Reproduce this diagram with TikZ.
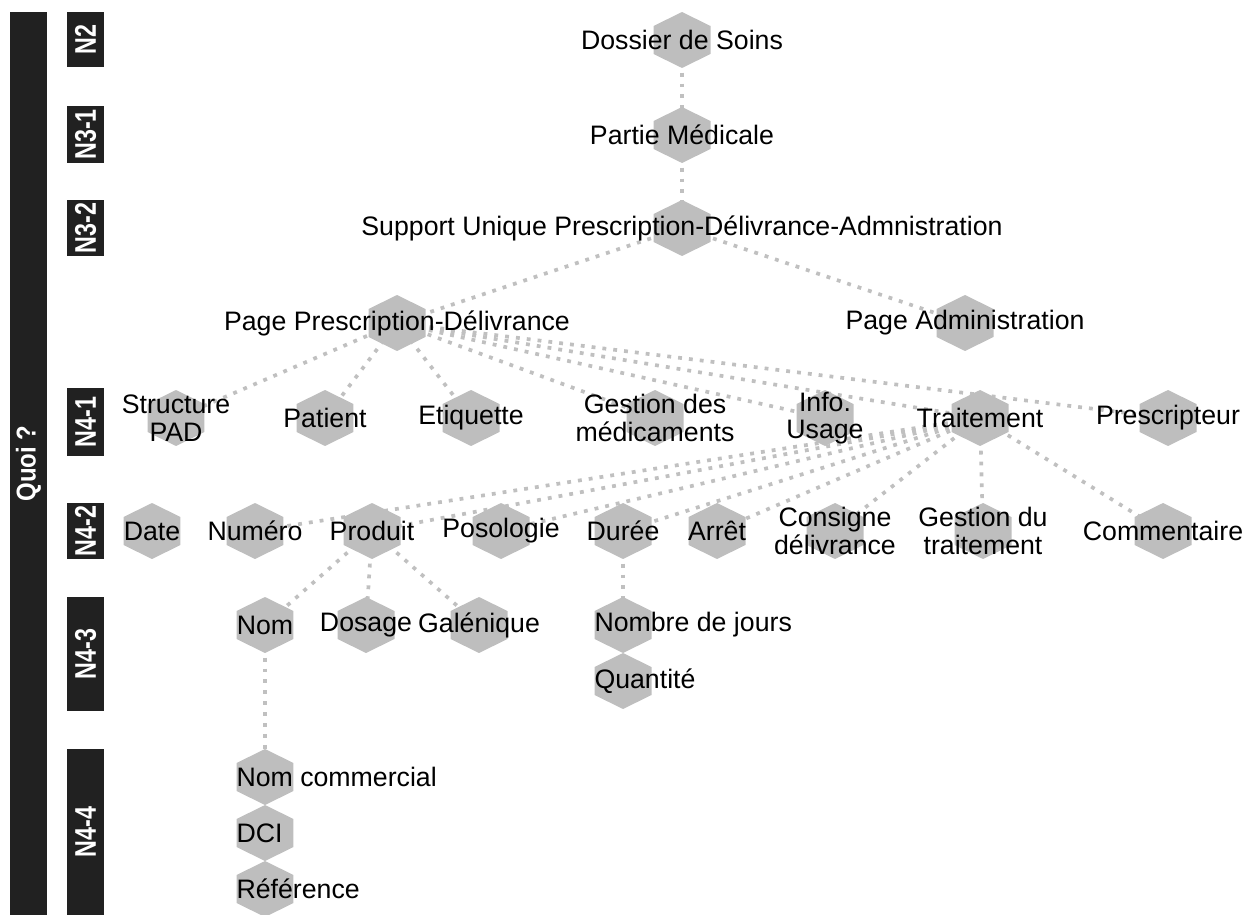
\documentclass[tikz,border=0pt]{standalone}
\usepackage{fontspec}
\setmainfont{Liberation Sans}
\usetikzlibrary{backgrounds}
\definecolor{hexgray}{HTML}{BEBEBE}
\definecolor{dotgray}{HTML}{C0C0C0}
\definecolor{barink}{HTML}{212121}
\tikzset{hex/.style={minimum width=1.14cm,minimum height=1.12cm,inner sep=0pt,path picture={\fill[hexgray] (path picture bounding box.north) -- ([yshift=-0.28cm]path picture bounding box.north east) -- ([yshift=0.28cm]path picture bounding box.south east) -- (path picture bounding box.south) -- ([yshift=0.28cm]path picture bounding box.south west) -- ([yshift=-0.28cm]path picture bounding box.north west) -- cycle;}}, txt/.style={inner sep=0pt,align=center,font=\fontsize{15.2pt}{15.8pt}\selectfont}, link/.style={draw=dotgray,line width=2.1pt,dash pattern=on 2.2pt off 4pt}, lvl/.style={fill=barink,text=white,inner sep=0pt,minimum width=0.74cm,font=\bfseries\fontsize{17pt}{17pt}\selectfont}}

\begin{document}
\begin{tikzpicture}[x=0.02cm,y=-0.02cm]
\useasboundingbox (0,0) rectangle (1250,915);
% bandeau et niveaux
\node[lvl,minimum height=18.06cm,font=\bfseries\fontsize{15.5pt}{15.5pt}\selectfont] (quoi) at (28.5,463.5) {\rotatebox{90}{\scalebox{0.88}[1]{Quoi ?}}};
\node[lvl,minimum height=1.1cm] (n2) at (85.5,39.5) {\rotatebox{90}{\scalebox{0.78}[1]{N2}}};
\node[lvl,minimum height=1.14cm] (n31) at (85.5,134.5) {\rotatebox{90}{\scalebox{0.78}[1]{N3-1}}};
\node[lvl,minimum height=1.12cm] (n32) at (85.5,228) {\rotatebox{90}{\scalebox{0.78}[1]{N3-2}}};
\node[lvl,minimum height=1.36cm] (n41) at (85.5,422) {\rotatebox{90}{\scalebox{0.78}[1]{N4-1}}};
\node[lvl,minimum height=1.12cm] (n42) at (85.5,531) {\rotatebox{90}{\scalebox{0.78}[1]{N4-2}}};
\node[lvl,minimum height=2.28cm] (n43) at (85.5,654) {\rotatebox{90}{\scalebox{0.78}[1]{N4-3}}};
\node[lvl,minimum height=3.32cm] (n44) at (85.5,832) {\rotatebox{90}{\scalebox{0.78}[1]{N4-4}}};
% hexagones
\node[hex] (dossier) at (682,40) {}; \node[txt] (dossier-t) at (dossier) {Dossier de Soins};
\node[hex] (partie) at (682,135) {}; \node[txt] (partie-t) at (partie) {Partie Médicale};
\node[hex] (support) at (682,228) {}; \node[txt] (support-t) at (support) {Support Unique Prescription-Délivrance-Admnistration};
\node[hex] (ppd) at (397,323) {}; \node[txt] (ppd-t) at (ppd) {Page Prescription-Délivrance};
\node[hex] (padm) at (965,323) {}; \node[txt] (padm-t) at (padm) {Page Administration};
\node[hex] (struct) at (176,418) {}; \node[txt] (struct-t) at (struct) {Structure\\PAD};
\node[hex] (patient) at (325,418) {}; \node[txt] (patient-t) at (patient) {Patient};
\node[hex] (etiq) at (471,418) {}; \node[txt] (etiq-t) at (etiq) {Etiquette};
\node[hex] (gmed) at (655,418) {}; \node[txt] (gmed-t) at (gmed) {Gestion des\\médicaments};
\node[hex] (info) at (825,418) {}; \node[txt] (info-t) at (info) {Info.\\Usage};
\node[hex] (trait) at (980,418) {}; \node[txt] (trait-t) at (trait) {Traitement};
\node[hex] (presc) at (1168,418) {}; \node[txt] (presc-t) at (presc) {Prescripteur};
\node[hex] (date) at (152,531) {}; \node[txt] (date-t) at (date) {Date};
\node[hex] (numero) at (255,531) {}; \node[txt] (numero-t) at (numero) {Numéro};
\node[hex] (produit) at (372,531) {}; \node[txt] (produit-t) at (produit) {Produit};
\node[hex] (poso) at (501,531) {}; \node[txt] (poso-t) at (poso) {Posologie};
\node[hex] (duree) at (623,531) {}; \node[txt] (duree-t) at (duree) {Durée};
\node[hex] (arret) at (717,531) {}; \node[txt] (arret-t) at (arret) {Arrêt};
\node[hex] (consigne) at (835,531) {}; \node[txt] (consigne-t) at (consigne) {Consigne\\délivrance};
\node[hex] (gtrait) at (983,531) {}; \node[txt] (gtrait-t) at (gtrait) {Gestion du\\traitement};
\node[hex] (comment) at (1163,531) {}; \node[txt] (comment-t) at (comment) {Commentaire};
\node[hex] (nom) at (265,625) {}; \node[txt] (nom-t) at (nom) {Nom};
\node[hex] (dosage) at (366,625) {}; \node[txt] (dosage-t) at (dosage) {Dosage};
\node[hex] (galen) at (479,625) {}; \node[txt] (galen-t) at (galen) {Galénique};
\node[hex] (njours) at (623,625) {}; \node[txt,anchor=west] (njours-t) at (njours.west) {Nombre de jours};
\node[hex] (quant) at (623,681) {}; \node[txt,anchor=west] (quant-t) at (quant.west) {Quantité};
\node[hex] (nomc) at (265,777) {}; \node[txt,anchor=west] (nomc-t) at (nomc.west) {Nom commercial};
\node[hex] (dci) at (265,833) {}; \node[txt,anchor=west] (dci-t) at (dci.west) {DCI};
\node[hex] (ref) at (265,889) {}; \node[txt,anchor=west] (ref-t) at (ref.west) {Référence};
% liens
\begin{scope}[on background layer]
\draw[link] (dossier.center)--(partie.center); \draw[link] (partie.center)--(support.center);
\draw[link] (support.center)--(ppd.center); \draw[link] (support.center)--(padm.center);
\draw[link] (ppd.center)--(struct.center); \draw[link] (ppd.center)--(patient.center); \draw[link] (ppd.center)--(etiq.center); \draw[link] (ppd.center)--(gmed.center);
\draw[link] (ppd.center)--(info.center); \draw[link] (ppd.center)--(trait.center); \draw[link] (ppd.center)--(presc.center);
\draw[link] (trait.center)--(numero.center); \draw[link] (trait.center)--(produit.center); \draw[link] (trait.center)--(poso.center); \draw[link] (trait.center)--(duree.center);
\draw[link] (trait.center)--(arret.center); \draw[link] (trait.center)--(consigne.center); \draw[link] (trait.center)--(gtrait.center); \draw[link] (trait.center)--(comment.center);
\draw[link] (produit.center)--(nom.center); \draw[link] (produit.center)--(dosage.center); \draw[link] (produit.center)--(galen.center);
\draw[link] (nom.center)--(nomc.center); \draw[link] (duree.center)--(njours.center);
\end{scope}
\end{tikzpicture}
\end{document}
